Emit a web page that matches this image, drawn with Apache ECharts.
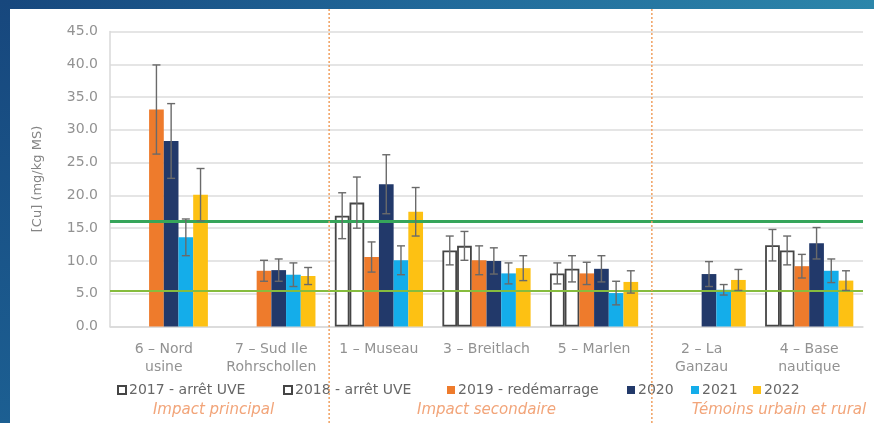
<!DOCTYPE html>
<html>
<head>
<meta charset="utf-8">
<script src="https://cdn.jsdelivr.net/npm/echarts@6/dist/echarts.min.js"></script>
<style>
  html, body { margin: 0; padding: 0; background: #fff; }
  #chart { width: 874px; height: 423px; }
</style>
</head>
<body>
<div id="chart"></div>
<script>
// Copper concentration in mosses by site and campaign year
const categories = ['6 – Nord\nusine', '7 – Sud Ile\nRohrschollen', '1 – Museau', '3 – Breitlach', '5 – Marlen', '2 – La\nGanzau', '4 – Base\nnautique'];
const seriesNames = ['2017 - arrêt UVE', '2018 - arrêt UVE', '2019 - redémarrage', '2020', '2021', '2022'];

const values2017 = [null, null, 16.9, 11.6, 8.1, null, 12.4];
const values2018 = [null, null, 18.9, 12.3, 8.8, null, 11.6];
const values2019 = [33.1, 8.5, 10.6, 10.1, 8.1, null, 9.2];
const values2020 = [28.3, 8.6, 21.7, 10.0, 8.8, 8.0, 12.7];
const values2021 = [13.6, 7.9, 10.1, 8.1, 5.1, 5.6, 8.5];
const values2022 = [20.1, 7.7, 17.5, 8.9, 6.8, 7.1, 7.0];

// half-width of the uncertainty interval
const err2017 = [null, null, 3.5, 2.2, 1.6, null, 2.4];
const err2018 = [null, null, 3.9, 2.2, 2.0, null, 2.2];
const err2019 = [6.8, 1.6, 2.3, 2.2, 1.7, null, 1.8];
const err2020 = [5.7, 1.7, 4.5, 2.0, 2.0, 1.9, 2.4];
const err2021 = [2.8, 1.8, 2.2, 1.6, 1.8, 0.8, 1.8];
const err2022 = [4.0, 1.3, 3.7, 1.9, 1.7, 1.6, 1.5];

// reference levels (green lines)
const thresholdHigh = 16.0;
const thresholdLow = 5.5;

const yMin = 0, yMax = 45, yStep = 5;
const groupLabels = ['Impact principal', 'Impact secondaire', 'Témoins urbain et rural'];

const allValues = [values2017, values2018, values2019, values2020, values2021, values2022];
const allErrors = [err2017, err2018, err2019, err2020, err2021, err2022];
const colors = ['#ffffff', '#ffffff', '#EE7B2C', '#22396A', '#14ADEA', '#FDC113'];
const borders = ['#454545', '#454545', null, null, null, null];
const legendLefts = [117, 283, 447, 627, 691, 753];

const FONT = 'DejaVu Sans';
const GAP = 0.18;
const NBARS = 6;

const chart = echarts.init(document.getElementById('chart'), null, { renderer: 'canvas' });

function errorRenderer(slot) {
  return function (params, api) {
    const v = api.value(1), e = api.value(2);
    const c = api.coord([api.value(0), 0]);
    const band = api.size([1, 0])[0];
    const barW = band * (1 - GAP) / NBARS;
    const x = c[0] + (slot - (NBARS - 1) / 2) * barW;
    const top = api.coord([api.value(0), v + e])[1];
    const bot = api.coord([api.value(0), v - e])[1];
    const cap = 4;
    const st = { stroke: '#6a6a6a', lineWidth: 1.4 };
    return {
      type: 'group',
      children: [
        { type: 'line', shape: { x1: x, y1: top, x2: x, y2: bot }, style: st },
        { type: 'line', shape: { x1: x - cap, y1: top, x2: x + cap, y2: top }, style: st },
        { type: 'line', shape: { x1: x - cap, y1: bot, x2: x + cap, y2: bot }, style: st }
      ]
    };
  };
}

const barSeries = seriesNames.map((name, i) => {
  const s = {
    name: name,
    type: 'bar',
    data: allValues[i].map(v => (v == null ? '-' : v)),
    barGap: '0%',
    barCategoryGap: (GAP * 100) + '%',
    itemStyle: {
      color: colors[i],
      borderColor: borders[i] || colors[i],
      borderWidth: borders[i] ? 1.8 : 0
    },
    emphasis: { disabled: true },
    z: 2
  };
  if (i === 0) {
    s.markLine = {
      silent: true,
      symbol: 'none',
      label: { show: false },
      z: 5,
      data: [
        { yAxis: thresholdHigh, lineStyle: { color: '#36A55A', width: 3, type: 'solid' } },
        { yAxis: thresholdLow, lineStyle: { color: '#86BC3E', width: 2.2, type: 'solid' } }
      ]
    };
  }
  return s;
});

const errSeries = seriesNames.map((name, i) => ({
  name: 'err ' + name,
  type: 'custom',
  renderItem: errorRenderer(i),
  encode: { x: 0, y: [1, 2] },
  data: allValues[i].map((v, k) => [k, v, allErrors[i][k]]).filter(d => d[1] != null),
  z: 6,
  silent: true
}));

const option = {
  backgroundColor: '#ffffff',
  animation: false,
  textStyle: { fontFamily: FONT },
  grid: { left: 110, right: 11, top: 31.5, bottom: 96.5, containLabel: false },
  legend: seriesNames.map((n, i) => ({
    data: [n],
    left: legendLefts[i],
    top: 383,
    icon: 'rect',
    itemWidth: 8,
    itemHeight: 8,
    itemGap: 4,
    padding: 0,
    selectedMode: false,
    textStyle: { color: '#666666', fontSize: 14, fontFamily: FONT, padding: [0, 0, 0, -2] }
  })),
  xAxis: [{
    type: 'category',
    data: categories,
    axisLine: { lineStyle: { color: '#d9d9d9', width: 1.5 } },
    axisTick: { show: false },
    axisLabel: { color: '#929292', fontSize: 14, fontFamily: FONT, lineHeight: 18, margin: 14, interval: 0 },
    splitLine: { show: false }
  }, {
    type: 'value', min: 0, max: categories.length, show: false
  }],
  yAxis: {
    type: 'value',
    min: yMin, max: yMax, interval: yStep,
    name: '[Cu] (mg/kg MS)',
    nameLocation: 'middle',
    nameGap: 66,
    nameTextStyle: { color: '#858585', fontSize: 13, fontFamily: FONT },
    axisLine: { show: true, lineStyle: { color: '#d9d9d9', width: 1.5 } },
    axisTick: { show: false },
    axisLabel: { color: '#929292', fontSize: 14, fontFamily: FONT, margin: 12, formatter: v => v.toFixed(1) },
    splitLine: { lineStyle: { color: '#dcdcdc', width: 1.5 } }
  },
  series: barSeries.concat(errSeries)
};

chart.setOption(option);

// decorations: frame, group dividers and group captions
function px(v) { return chart.convertToPixel({ xAxisIndex: 1 }, v); }
const H = 423, W = 874;
const div1 = px(2) + 4;
const div2 = px(5) + 4;
const dividerStyle = { stroke: '#F0A060', lineWidth: 1.5, lineDash: [2, 2] };
const captionStyle = { fill: '#F2A57A', font: 'italic 15px "' + FONT + '"', textAlign: 'center', textVerticalAlign: 'middle' };

chart.setOption({
  graphic: [
    { type: 'rect', shape: { x: 0, y: 0, width: W, height: 9 }, z: 100,
      style: { fill: new echarts.graphic.LinearGradient(0, 0, 1, 0, [
        { offset: 0, color: '#17477d' }, { offset: 0.5, color: '#21699a' }, { offset: 1, color: '#2c86aa' }]) } },
    { type: 'rect', shape: { x: 0, y: 0, width: 10, height: H }, z: 100,
      style: { fill: new echarts.graphic.LinearGradient(0, 0, 0, 1, [
        { offset: 0, color: '#17477d' }, { offset: 1, color: '#1c5f92' }]) } },
    { type: 'line', shape: { x1: div1, y1: 9, x2: div1, y2: H }, style: dividerStyle, z: 50 },
    { type: 'line', shape: { x1: div2, y1: 9, x2: div2, y2: H }, style: dividerStyle, z: 50 },
    { type: 'text', x: px(1) - 4, y: 410, style: Object.assign({ text: groupLabels[0] }, captionStyle), z: 50 },
    { type: 'text', x: px(3.5), y: 410, style: Object.assign({ text: groupLabels[1] }, captionStyle), z: 50 },
    { type: 'text', x: px(6.2) + 2, y: 410, style: Object.assign({ text: groupLabels[2] }, captionStyle), z: 50 }
  ]
});
</script>
</body>
</html>
